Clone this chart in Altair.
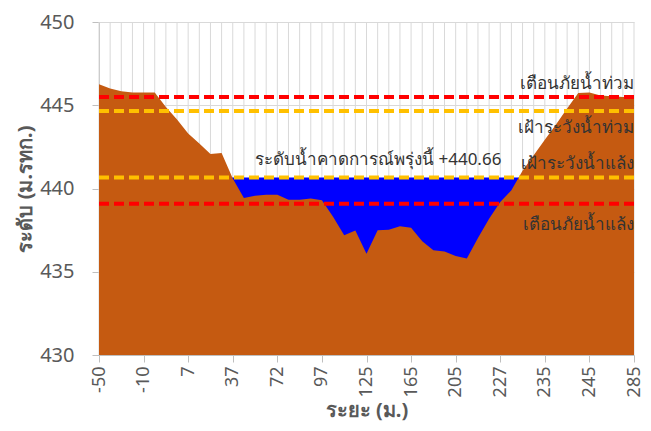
import json
import altair as alt
import pandas as pd

# ---- data ----
distance_labels = ["-50", "-40", "-30", "-20", "-10", "-6", "-2", "3", "7", "15", "22", "30",
                   "37", "45", "55", "63", "72", "78", "84", "90", "97", "105", "112", "118",
                   "125", "135", "145", "155", "165", "175", "185", "195", "205", "210", "215", "220",
                   "227", "229", "231", "233", "235", "237", "239", "242", "245", "255", "265", "275", "285"]
ground_level = [446.26, 446.0, 445.84, 445.76, 445.76, 445.76, 444.9, 444.15, 443.3, 442.7, 442.07, 442.13,
                440.6, 439.43, 439.57, 439.63, 439.63, 439.33, 439.33, 439.4, 439.29, 438.3, 437.19, 437.47,
                436.08, 437.49, 437.53, 437.74, 437.65, 436.83, 436.29, 436.21, 435.95, 435.79, 437.03, 438.19,
                439.19, 439.89, 441.07, 442.0, 442.93, 443.85, 444.8, 445.74, 445.76, 445.58, 445.54, 445.5, 445.5]
forecast_level = 440.66

line_names = ["เตือนภัยน้ำท่วม", "เฝ้าระวังน้ำท่วม", "เฝ้าระวังน้ำแล้ง", "เตือนภัยน้ำแล้ง"]
line_levels = [445.5, 444.66, 440.66, 439.08]
line_colors = ["#FF0000", "#FFC000", "#FFC000", "#FF0000"]

label_texts = ["เตือนภัยน้ำท่วม", "เฝ้าระวังน้ำท่วม", "เฝ้าระวังน้ำแล้ง", "เตือนภัยน้ำแล้ง"]
label_y = [446.0, 443.34, 441.16, 437.5]
forecast_text = "ระดับน้ำคาดการณ์พรุ่งนี้ +" + f"{forecast_level:.2f}"

FONT = "Noto Sans"

n = len(distance_labels)
profile = pd.DataFrame({
    "idx": list(range(n)),
    "dist": distance_labels,
    "ground": ground_level,
    "water": [forecast_level] * n,
})
lines_df = pd.DataFrame({"name": line_names, "level": line_levels, "color": line_colors})
labels_df = pd.DataFrame({"text": label_texts, "y": label_y, "x": [n - 1] * len(label_texts)})
forecast_df = pd.DataFrame({"text": [forecast_text], "y": [441.4], "x": [14.0]})

label_expr = f"datum.value % 4 == 0 ? {json.dumps(distance_labels, ensure_ascii=False)}[datum.value] : ''"

x_enc = alt.X("idx:Q",
              scale=alt.Scale(domain=[0, n - 1], nice=False, zero=False),
              axis=alt.Axis(values=list(range(n)), labelExpr=label_expr, labelAngle=-90,
                            title="ระยะ (ม.)", grid=False,
                            domainColor="#BFBFBF", tickColor="#BFBFBF", tickSize=7,
                            labelPadding=4, labelFontSize=18, labelColor="#595959",
                            labelFont=FONT, titleFont=FONT, titleFontSize=20,
                            titleColor="#595959", titleFontWeight="bold", titlePadding=4,
                            labelOverlap=False))
y_scale = alt.Scale(domain=[430, 450], nice=False, zero=False)
y_axis = alt.Axis(values=[430, 435, 440, 445, 450], title="ระดับ (ม.รทก.)", grid=True,
                  gridColor="#D9D9D9", gridOpacity=1, domainColor="#BFBFBF", tickColor="#BFBFBF",
                  tickSize=7, labelPadding=18, labelFontSize=20, labelColor="#595959", labelFont=FONT,
                  titleFont=FONT, titleFontSize=20, titleColor="#595959",
                  titleFontWeight="bold", titlePadding=4)

base = alt.Chart(profile)

vgrid = base.mark_rule(color="#D9D9D9", strokeWidth=1).encode(
    x=x_enc,
    y=alt.datum(430, scale=y_scale, axis=y_axis),
    y2=alt.datum(450),
)
water = base.mark_area(color="#0000FF", opacity=1).encode(
    x="idx:Q",
    y="water:Q",
    y2=alt.datum(430),
)
ground = base.mark_area(color="#C55A11", opacity=1).encode(
    x="idx:Q",
    y="ground:Q",
    y2=alt.datum(430),
)
rules = alt.Chart(lines_df).mark_rule(strokeWidth=4, strokeDash=[10, 5]).encode(
    y="level:Q",
    color=alt.Color("color:N", scale=None),
)
labels = alt.Chart(labels_df).mark_text(align="right", baseline="alphabetic", font=FONT,
                                        fontSize=17, color="#333333").encode(
    x="x:Q", y="y:Q", text="text:N")
forecast = alt.Chart(forecast_df).mark_text(align="left", baseline="alphabetic", font=FONT,
                                            fontSize=17, color="#333333").encode(
    x="x:Q", y="y:Q", text="text:N")

chart = alt.layer(vgrid, water, ground, rules, labels, forecast).properties(
    width=635, height=415,
    autosize=alt.AutoSizeParams(type="fit", contains="padding"),
    padding={"top": 4, "left": 7, "right": 0, "bottom": 2},
).configure_view(stroke=None)

chart.save("out.html", embed_options={"renderer": "svg", "actions": False})
